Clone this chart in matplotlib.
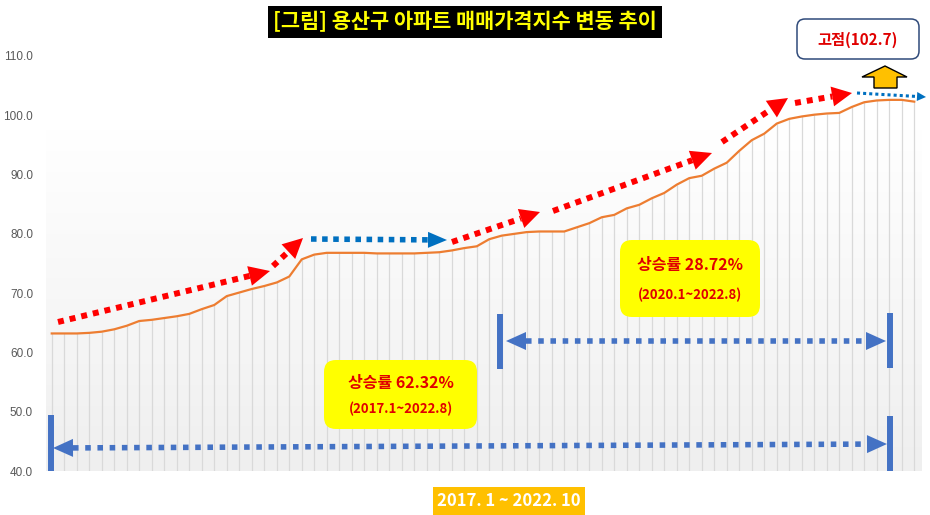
import matplotlib
matplotlib.use('Agg')
import matplotlib.pyplot as plt
import numpy as np
from matplotlib.patches import FancyBboxPatch, Polygon, Rectangle
from matplotlib.colors import LinearSegmentedColormap

plt.rcParams['font.family'] = ['Noto Sans CJK KR', 'DejaVu Sans']

# 용산구 아파트 매매가격지수, 2017.1 ~ 2022.10 (monthly)
months = [f'{y}.{m}' for y in range(2017, 2023) for m in range(1, 13)][:70]
index_values = [
    63.2, 63.2, 63.2, 63.3, 63.5, 63.9, 64.5, 65.3, 65.5, 65.8, 66.1, 66.5,
    67.3, 68.0, 69.5, 70.1, 70.7, 71.2, 71.8, 72.8, 75.7, 76.5, 76.8, 76.8,
    76.8, 76.8, 76.7, 76.7, 76.7, 76.7, 76.8, 76.9, 77.2, 77.6, 77.9, 79.1,
    79.7, 80.0, 80.3, 80.4, 80.4, 80.4, 81.1, 81.8, 82.8, 83.2, 84.3, 84.9,
    86.0, 86.9, 88.3, 89.4, 89.8, 91.0, 92.0, 94.0, 95.8, 96.9, 98.6, 99.4,
    99.8, 100.1, 100.3, 100.4, 101.4, 102.2, 102.5, 102.6, 102.6, 102.3,
]
y_ticks = [40, 50, 60, 70, 80, 90, 100, 110]

title = '[그림] 용산구 아파트 매매가격지수 변동 추이'
period_label = '2017. 1 ~ 2022. 10'
peak_label = '고점(102.7)'
rise_all = ['상승률 62.32%', '(2017.1~2022.8)']
rise_recent = ['상승률 28.72%', '(2020.1~2022.8)']

W, H = 930, 515
fig = plt.figure(figsize=(W / 100, H / 100), dpi=100)
fig.patch.set_facecolor('white')

# main chart axes
ax = fig.add_axes([45.5 / W, (H - 471) / H, 875 / W, 415 / H])
x = np.arange(len(index_values))
ax.set_xlim(-0.5, len(index_values) - 0.5)
ax.set_ylim(40, 110)

# soft gray gradient behind the plot
grad = np.linspace(0, 1, 100).reshape(-1, 1)
cmap = LinearSegmentedColormap.from_list('bg', ['#FFFFFF', '#EFEFEF'])
ax.imshow(grad, aspect='auto', cmap=cmap, origin='upper',
          extent=(-0.5, len(index_values) - 0.5, 40, 98), zorder=0)

ax.vlines(x, 40, index_values, color='#D9D9D9', lw=0.9, zorder=1)
ax.plot(x, index_values, color='#ED7D31', lw=1.6, zorder=2)

ax.set_yticks(y_ticks)
ax.set_yticklabels([f'{v:.1f}' for v in y_ticks], fontsize=8.5, color='#595959',
                   family=['Liberation Sans', 'DejaVu Sans'])
ax.set_xticks([])
ax.tick_params(axis='y', length=0, pad=9)
for s in ax.spines.values():
    s.set_visible(False)

# overlay in pixel coordinates for the annotations
ov = fig.add_axes([0, 0, 1, 1], zorder=5)
ov.set_xlim(0, W)
ov.set_ylim(H, 0)
ov.axis('off')
ov.patch.set_alpha(0)


def head(tip, d, head_len, head_w, color):
    n = np.array([-d[1], d[0]])
    base = np.array(tip) - d * head_len
    tri = [tuple(tip), tuple(base + n * head_w / 2), tuple(base - n * head_w / 2)]
    ov.add_patch(Polygon(tri, closed=True, color=color, lw=0))
    return base


def dotted_arrow(x0, y0, x1, y1, color, lw, head_len, head_w, dash=(1, 1), both=False):
    d = np.array([x1 - x0, y1 - y0], dtype=float)
    d /= np.hypot(*d)
    end = head((x1, y1), d, head_len, head_w, color)
    start = np.array([x0, y0], dtype=float)
    if both:
        start = head((x0, y0), -d, head_len, head_w, color)
    ov.plot([start[0], end[0]], [start[1], end[1]], color=color, lw=lw,
            linestyle=(0, dash), solid_capstyle='butt', dash_capstyle='butt')


red = '#FF0000'
blue = '#0070C0'
blue2 = '#4472C4'

dotted_arrow(58, 322, 270, 271, red, 4.3, 21, 20)
dotted_arrow(273, 266, 303, 238, red, 4.3, 20, 20)
dotted_arrow(311, 239, 447, 240, blue, 4.0, 19, 16)
dotted_arrow(452, 242, 540, 212, red, 4.3, 20, 20)
dotted_arrow(553, 211, 712, 153, red, 4.3, 21, 20)
dotted_arrow(722, 142, 788, 98, red, 4.3, 20, 20)
dotted_arrow(795, 103, 852, 93, red, 4.3, 20, 20)
dotted_arrow(857, 93, 926, 97, blue, 2.2, 9, 9, dash=(1, 1))

# long double arrows with end bars
dotted_arrow(53, 448, 887, 444, blue2, 4.0, 20, 18, dash=(1, 1.2), both=True)
ov.plot([51, 51], [415, 471], color=blue2, lw=4.3, solid_capstyle='butt')
ov.plot([890, 890], [416, 471], color=blue2, lw=4.3, solid_capstyle='butt')

dotted_arrow(506, 341, 886, 341, blue2, 4.0, 20, 18, dash=(1, 1.2), both=True)
ov.plot([500, 500], [314, 369], color=blue2, lw=4.3, solid_capstyle='butt')
ov.plot([890, 890], [313, 368], color=blue2, lw=4.3, solid_capstyle='butt')

# orange up arrow
up = [(885, 66), (907, 77), (897, 77), (897, 88), (874, 88), (874, 77), (862, 77)]
ov.add_patch(Polygon(up, closed=True, facecolor='#FFC000', edgecolor='black', lw=1))

# peak box
ov.add_patch(FancyBboxPatch((797, 19), 122, 40, boxstyle='round,pad=0,rounding_size=8',
                            facecolor='white', edgecolor='#2F4A7A', lw=1.1))
ov.text(858, 40, peak_label, ha='center', va='center', color='#E00000',
        fontsize=11, fontweight='bold')

# yellow info boxes
for (bx, by, bw, bh), lines in [((324, 360, 153, 69), rise_all),
                                ((620, 240, 140, 77), rise_recent)]:
    ov.add_patch(FancyBboxPatch((bx, by), bw, bh, boxstyle='round,pad=0,rounding_size=12',
                                facecolor='#FFFF00', edgecolor='none'))
    cx = bx + bw / 2
    ov.text(cx, by + bh * 0.33, lines[0], ha='center', va='center', color='#E00000',
            fontsize=11.5, fontweight='bold')
    ov.text(cx, by + bh * 0.71, lines[1], ha='center', va='center', color='#E00000',
            fontsize=9.5, fontweight='bold')

# title
ov.add_patch(Rectangle((268, 6), 394, 32, facecolor='black', edgecolor='none'))
ov.text(465, 22, title, ha='center', va='center', color='#FFFF00',
        fontsize=15, fontweight='bold')

# period label
ov.add_patch(Rectangle((433, 487), 152, 30, facecolor='#FFC000', edgecolor='none'))
ov.text(509, 501, period_label, ha='center', va='center', color='white',
        fontsize=12, fontweight='bold')

fig.savefig('out.png', dpi=100)
